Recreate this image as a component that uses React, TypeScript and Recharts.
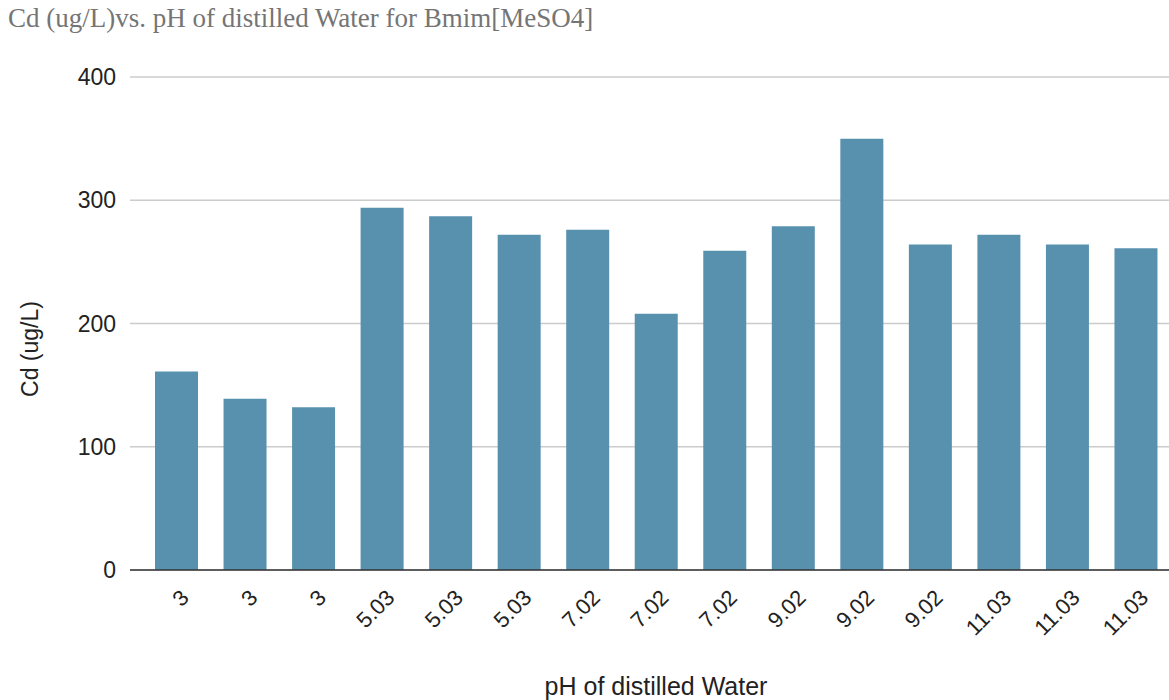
import React from "react";
import { BarChart, Bar, XAxis, YAxis, CartesianGrid } from "recharts";

const categories = ["3", "3", "3", "5.03", "5.03", "5.03", "7.02", "7.02", "7.02", "9.02", "9.02", "9.02", "11.03", "11.03", "11.03"];
const cdValues = [161, 139, 132, 294, 287, 272, 276, 208, 259, 279, 350, 264, 272, 264, 261];
const yTicks = [0, 100, 200, 300, 400];

const data = categories.map((c, i) => ({ idx: i, ph: c, cd: cdValues[i] }));

const FONT = "'Liberation Sans', Arial, sans-serif";

const XTick = (props: any) => {
  const { x, y, payload } = props;
  return (
    <g transform={`translate(${x + 14},${y + 29})`}>
      <text textAnchor="end" transform="rotate(-45)" fontSize={22} fontFamily={FONT} fill="#222">
        {categories[payload.value]}
      </text>
    </g>
  );
};

const YTick = (props: any) => {
  const { x, y, payload } = props;
  return (
    <text x={x} y={y} dy={8} textAnchor="end" fontSize={23} fontFamily={FONT} fill="#222">
      {payload.value}
    </text>
  );
};

export default function App() {
  return (
    <div style={{ position: "absolute", left: 0, top: 0, width: 1169, height: 700, background: "#fff" }}>
      <div
        style={{
          position: "absolute",
          left: 8,
          top: 3,
          fontFamily: "'Liberation Serif', 'Times New Roman', serif",
          fontSize: 27,
          color: "#757575",
          whiteSpace: "nowrap",
        }}
      >
        Cd (ug/L)vs. pH of distilled Water for Bmim[MeSO4]
      </div>
      <BarChart
        width={1170}
        height={700}
        data={data}
        margin={{ top: 77, right: 0, bottom: 100, left: 0 }}
        barSize={43}
      >
        <CartesianGrid horizontal vertical={false} stroke="#cccccc" strokeWidth={1.5} />
        <XAxis
          dataKey="idx"
          type="category"
          height={30}
          padding={{ left: 12, right: 0 }}
          tickLine={false}
          tickSize={0}
          tickMargin={0}
          axisLine={{ stroke: "#333333", strokeWidth: 1.5 }}
          tick={<XTick />}
          interval={0}
          label={(p: any) => {
            const vb = p.viewBox || {};
            return (
              <text
                x={vb.x + vb.width / 2 + 6}
                y={695}
                textAnchor="middle"
                fontSize={25}
                fontFamily={FONT}
                fill="#222"
              >
                pH of distilled Water
              </text>
            );
          }}
        />
        <YAxis
          width={130}
          domain={[0, 400]}
          ticks={yTicks}
          tickLine={false}
          axisLine={false}
          tickSize={0}
          tickMargin={14}
          tick={<YTick />}
          label={() => (
            <text
              x={0}
              y={0}
              transform="translate(38,349) rotate(-90)"
              textAnchor="middle"
              fontSize={23}
              fontFamily={FONT}
              fill="#222"
            >
              Cd (ug/L)
            </text>
          )}
        />
        <Bar dataKey="cd" fill="#5891ae" isAnimationActive={false} />
      </BarChart>
    </div>
  );
}
